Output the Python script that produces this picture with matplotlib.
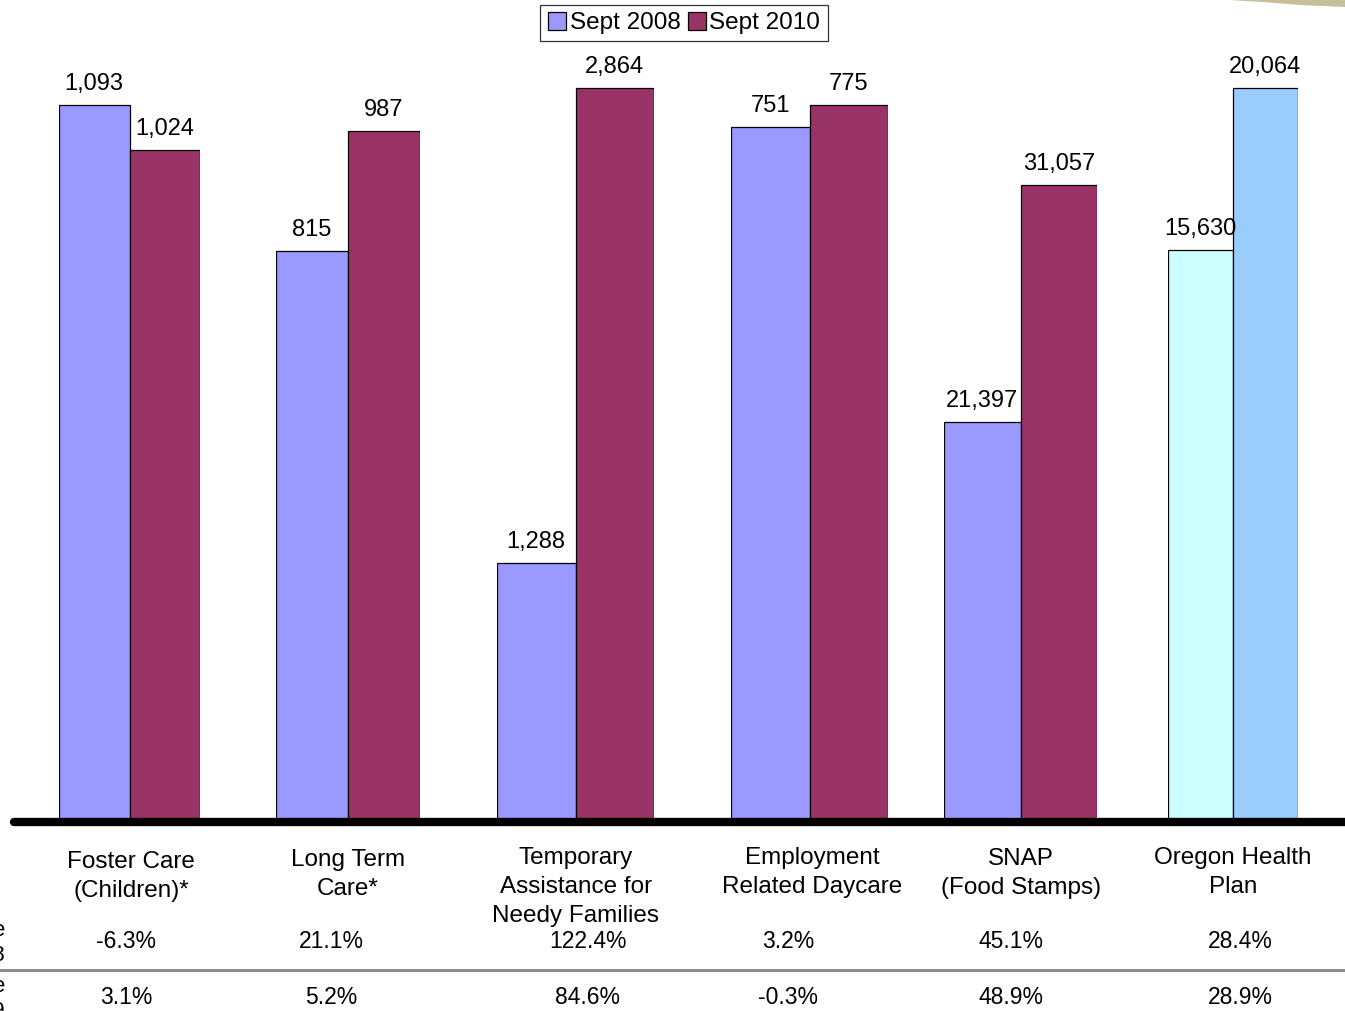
import matplotlib.pyplot as plt
from matplotlib.lines import Line2D
from matplotlib.patches import Patch, Polygon

plt.rcParams['font.family'] = ['Liberation Sans', 'DejaVu Sans']

# caseloads by program
programs = ['Foster Care\n(Children)*', 'Long Term\nCare*', 'Temporary\nAssistance for\nNeedy Families',
            'Employment\nRelated Daycare', 'SNAP\n(Food Stamps)', 'Oregon Health\nPlan']
sept_2008 = [1093, 815, 1288, 751, 21397, 15630]
sept_2010 = [1024, 987, 2864, 775, 31057, 20064]
change_since_2008 = ['-6.3%', '21.1%', '122.4%', '3.2%', '45.1%', '28.4%']
change_since_2009 = ['3.1%', '5.2%', '84.6%', '-0.3%', '48.9%', '28.9%']
series_names = ['Sept 2008', 'Sept 2010']

# layout in pixels (figure is 1345 x 1011)
W, H = 1345, 1011
BASE = 820
group_left = [59, 276, 497, 731, 944, 1168]
group_width = [141, 144, 157, 157, 153, 130]
group_ylim = [(0, 1253.5), (0, 1174.7), (434.6, 3155), (0, 888.8), (5173, 38598), (0, 22476)]
group_colors = [('#9999FF', '#993366')] * 5 + [('#CCFFFF', '#99CCFF')]
label_x = [131, 348, 576, 812, 1021, 1233]
label_top = [851, 849, 847, 847, 848, 847]
pct_x = [126, 331, 588, 788, 1011, 1240]


def fx(px):
    return px / W


def fy(py):
    return 1 - py / H


fig = plt.figure(figsize=(W / 100, H / 100), dpi=100)

# each program pair sits on its own little axes with its own scale
for i in range(len(programs)):
    ax = fig.add_axes([fx(group_left[i]), fy(BASE), group_width[i] / W, BASE / H])
    ax.set_xlim(0, 2)
    ax.set_ylim(*group_ylim[i])
    ax.axis('off')
    vals = [sept_2008[i], sept_2010[i]]
    bars = ax.bar([0.5, 1.5], vals, width=1.0, color=group_colors[i],
                  edgecolor='black', linewidth=0.9)
    for b, v in zip(bars, vals):
        ax.annotate(f'{v:,}', (b.get_x() + b.get_width() / 2, v),
                    xytext=(0, 7), textcoords='offset points',
                    ha='center', va='bottom', fontsize=17, annotation_clip=False)

    fig.text(fx(label_x[i]), fy(label_top[i]), programs[i], ha='center', va='top',
             fontsize=17.5, linespacing=1.42)
    fig.text(fx(pct_x[i]), fy(942), change_since_2008[i], ha='center', va='center', fontsize=16.5)
    fig.text(fx(pct_x[i]), fy(998), change_since_2009[i], ha='center', va='center', fontsize=16.5)

# thick baseline and row separator
fig.add_artist(Line2D([fx(14), fx(W + 10)], [fy(822), fy(822)], color='black',
                      linewidth=6, solid_capstyle='round'))
fig.add_artist(Line2D([0, 1], [fy(970), fy(970)], color='#8c8c8c', linewidth=2.2))

# row labels running off the left edge
fig.text(fx(5), fy(943), 'Percent change\nsince Sept 2008', ha='right', va='center',
         fontsize=16, linespacing=1.3)
fig.text(fx(5), fy(999), 'Percent change\nsince Sept 2009', ha='right', va='center',
         fontsize=16, linespacing=1.3)

# decorative swoosh in the top right corner
swoosh = Polygon([(fx(1230), 1), (fx(1345), 1), (fx(1345), fy(7)), (fx(1300), fy(5)),
                  (fx(1262), fy(2))], closed=True, transform=fig.transFigure,
                 facecolor='#c6bf98', edgecolor='none')
fig.add_artist(swoosh)

handles = [Patch(facecolor='#9999FF', edgecolor='black', linewidth=0.9),
           Patch(facecolor='#993366', edgecolor='black', linewidth=0.9)]
leg = fig.legend(handles, series_names, loc='center', bbox_to_anchor=(fx(684), fy(23)),
                 ncol=2, fontsize=17.5, frameon=True, fancybox=False, edgecolor='black',
                 handlelength=0.75, handleheight=0.75, handletextpad=0.15, columnspacing=0.3,
                 borderpad=0.3, borderaxespad=0)
leg.get_frame().set_linewidth(0.9)

fig.savefig('out.png', dpi=100)
